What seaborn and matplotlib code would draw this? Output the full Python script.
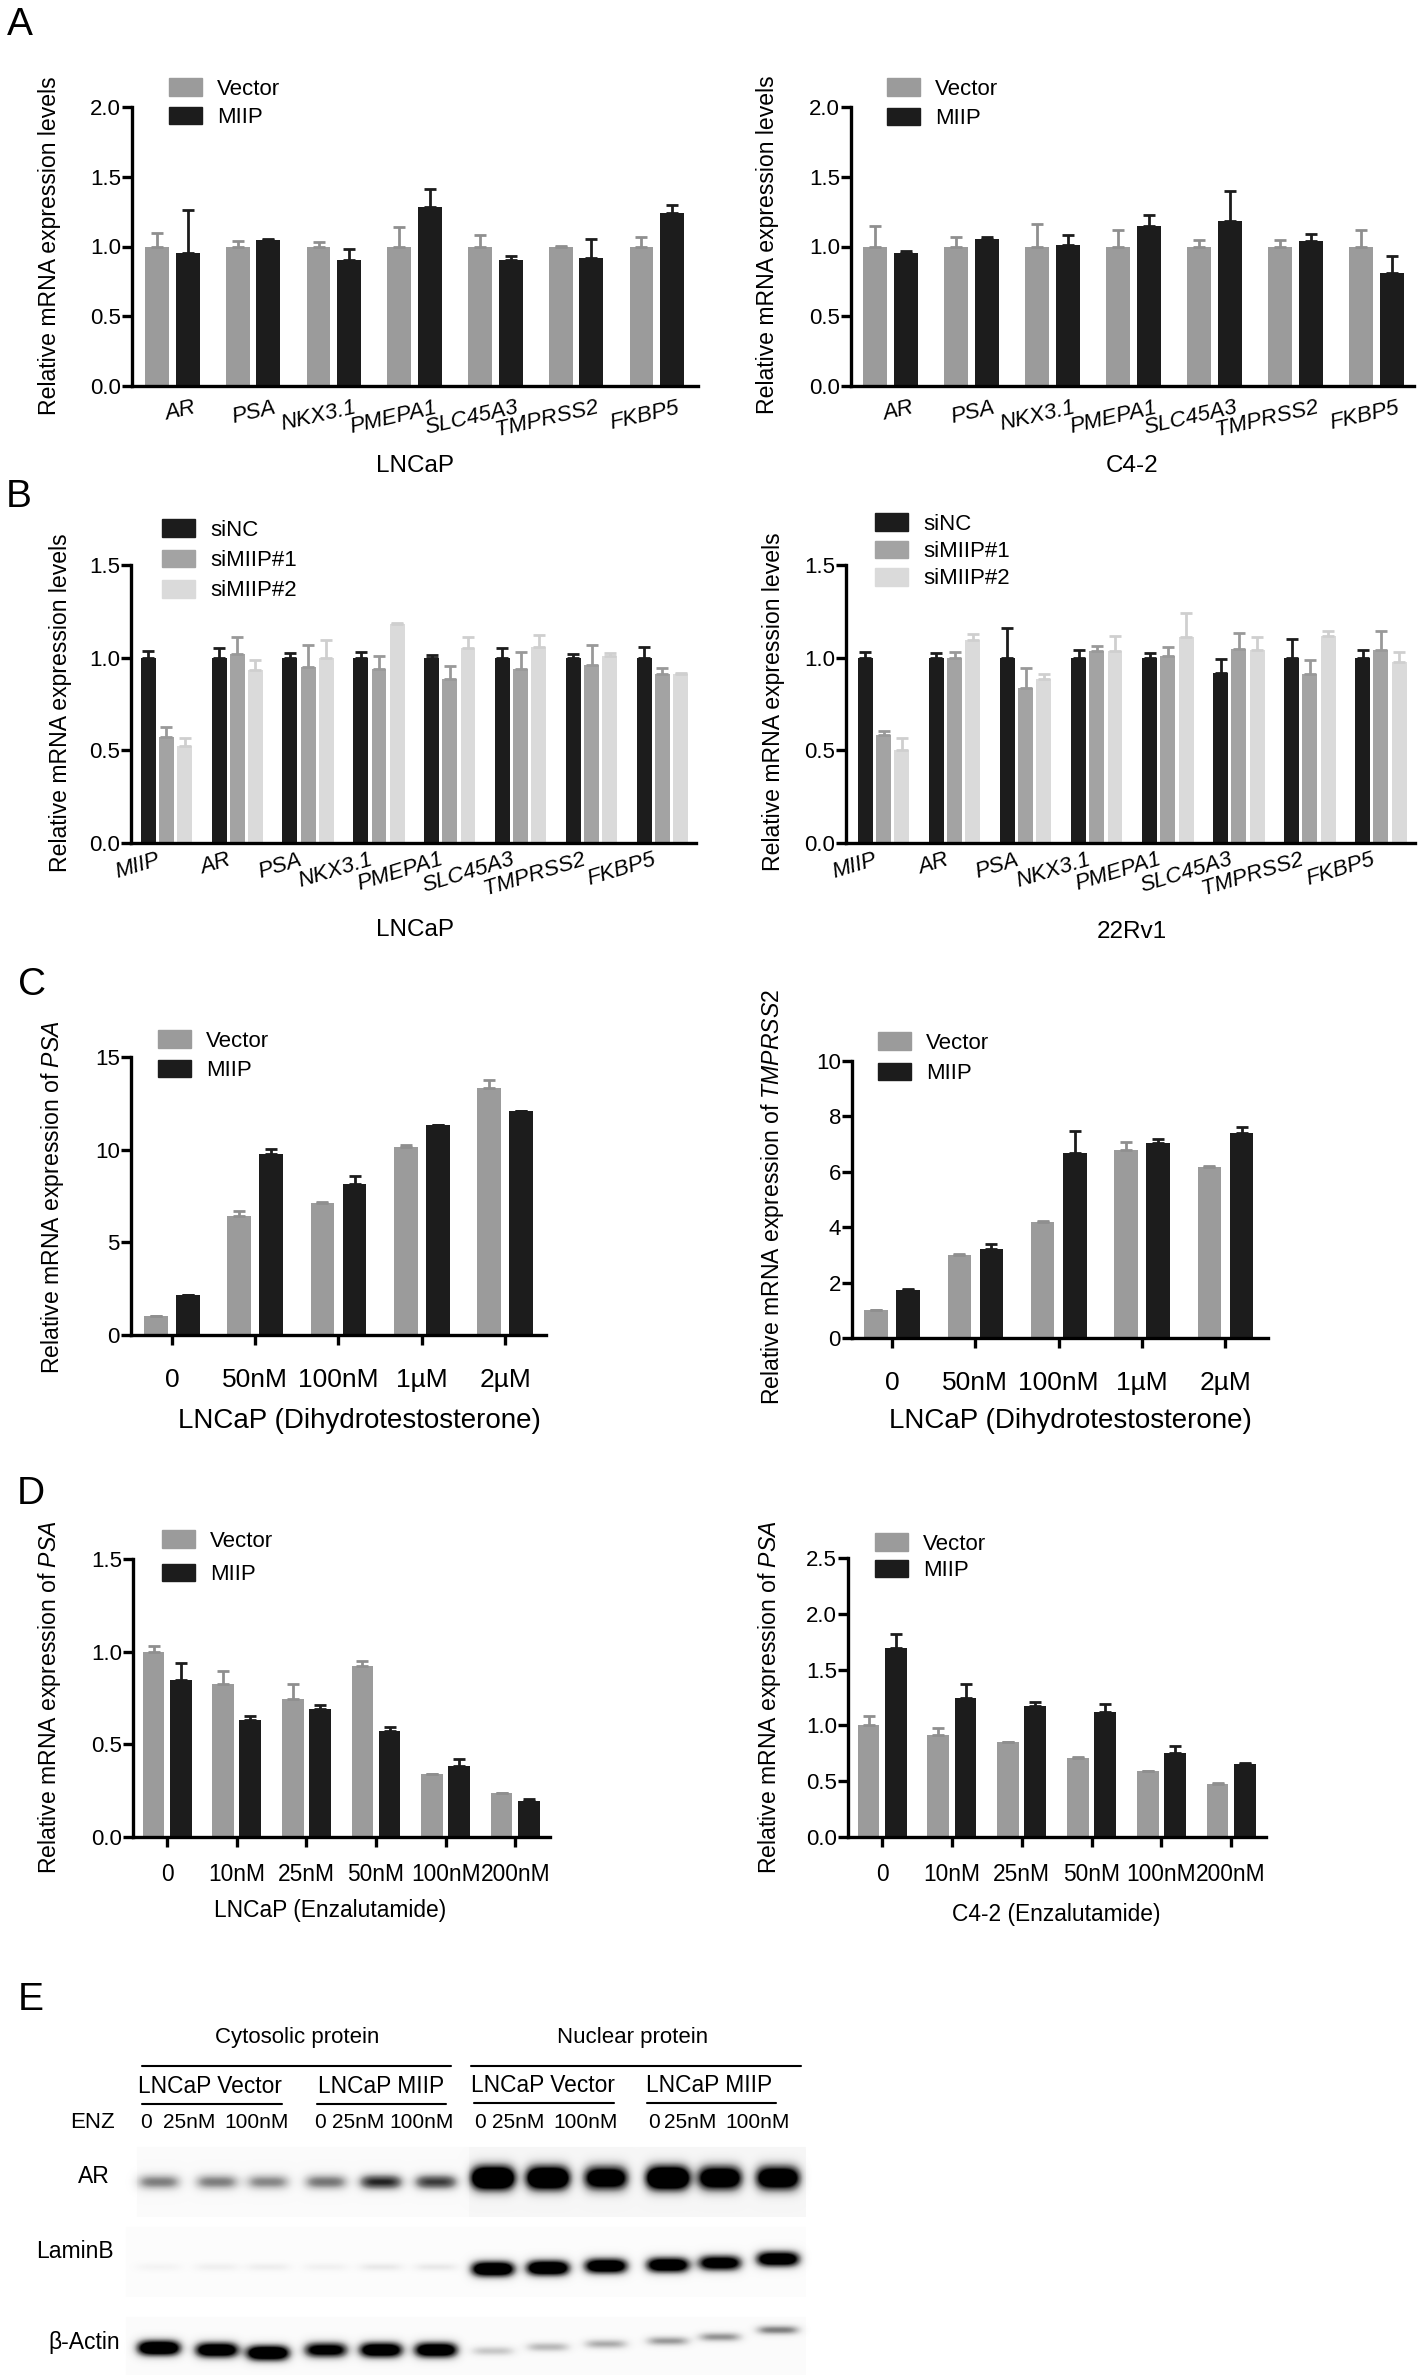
from __future__ import annotations

import matplotlib

matplotlib.use("Agg")
import matplotlib.pyplot as plt
import numpy as np
import pandas as pd
import seaborn as sns
from matplotlib.patches import Patch
from matplotlib.transforms import ScaledTranslation

# ---------------- data ----------------
GENES = ["AR", "PSA", "NKX3.1", "PMEPA1", "SLC45A3", "TMPRSS2", "FKBP5"]
GENES_SI = ["MIIP", "AR", "PSA", "NKX3.1", "PMEPA1", "SLC45A3", "TMPRSS2", "FKBP5"]
OE_GROUPS = ["Vector", "MIIP"]
SI_GROUPS = ["siNC", "siMIIP#1", "siMIIP#2"]
DHT_DOSES = ["0", "50nM", "100nM", "1µM", "2µM"]
ENZ_DOSES = ["0", "10nM", "25nM", "50nM", "100nM", "200nM"]

# A: LNCaP
A_LNCAP_VECTOR = [1.00, 1.00, 1.00, 1.00, 1.00, 1.00, 1.00]
A_LNCAP_VECTOR_ERR = [0.10, 0.04, 0.03, 0.14, 0.08, 0.005, 0.07]
A_LNCAP_MIIP = [0.95, 1.045, 0.90, 1.28, 0.90, 0.92, 1.24]
A_LNCAP_MIIP_ERR = [0.31, 0.012, 0.08, 0.13, 0.03, 0.135, 0.055]
# A: C4-2
A_C42_VECTOR = [1.00, 1.00, 1.00, 1.00, 1.00, 1.00, 1.00]
A_C42_VECTOR_ERR = [0.15, 0.07, 0.16, 0.115, 0.05, 0.045, 0.115]
A_C42_MIIP = [0.95, 1.057, 1.014, 1.146, 1.184, 1.04, 0.81]
A_C42_MIIP_ERR = [0.02, 0.008, 0.07, 0.08, 0.215, 0.05, 0.12]

# B: LNCaP
B_LNCAP_SINC = [1.00, 1.00, 1.00, 1.00, 1.00, 1.00, 1.00, 1.00]
B_LNCAP_SINC_ERR = [0.035, 0.05, 0.025, 0.03, 0.016, 0.05, 0.02, 0.06]
B_LNCAP_SI1 = [0.57, 1.02, 0.95, 0.94, 0.886, 0.94, 0.96, 0.913]
B_LNCAP_SI1_ERR = [0.055, 0.09, 0.12, 0.07, 0.07, 0.09, 0.11, 0.03]
B_LNCAP_SI2 = [0.524, 0.935, 1.00, 1.18, 1.05, 1.06, 1.007, 0.91]
B_LNCAP_SI2_ERR = [0.045, 0.05, 0.094, 0.005, 0.06, 0.06, 0.02, 0.005]
# B: 22Rv1
B_22RV1_SINC = [1.00, 1.00, 1.00, 1.00, 1.00, 0.915, 1.00, 1.00]
B_22RV1_SINC_ERR = [0.03, 0.027, 0.16, 0.04, 0.025, 0.078, 0.10, 0.04]
B_22RV1_SI1 = [0.584, 1.00, 0.835, 1.034, 1.009, 1.049, 0.913, 1.04]
B_22RV1_SI1_ERR = [0.02, 0.03, 0.11, 0.03, 0.047, 0.083, 0.077, 0.106]
B_22RV1_SI2 = [0.50, 1.098, 0.886, 1.034, 1.112, 1.043, 1.116, 0.976]
B_22RV1_SI2_ERR = [0.065, 0.03, 0.025, 0.085, 0.13, 0.07, 0.03, 0.057]

# C: DHT response
C_PSA_VECTOR = [1.0, 6.41, 7.10, 10.17, 13.33]
C_PSA_VECTOR_ERR = [0.05, 0.28, 0.08, 0.06, 0.44]
C_PSA_MIIP = [2.14, 9.76, 8.16, 11.32, 12.08]
C_PSA_MIIP_ERR = [0.02, 0.28, 0.41, 0.03, 0.03]
C_TMPRSS2_VECTOR = [1.0, 3.0, 4.19, 6.78, 6.16]
C_TMPRSS2_VECTOR_ERR = [0.02, 0.02, 0.05, 0.30, 0.06]
C_TMPRSS2_MIIP = [1.73, 3.22, 6.69, 7.04, 7.41]
C_TMPRSS2_MIIP_ERR = [0.03, 0.18, 0.78, 0.15, 0.20]

# D: enzalutamide response
D_LNCAP_VECTOR = [1.0, 0.826, 0.745, 0.925, 0.338, 0.237]
D_LNCAP_VECTOR_ERR = [0.03, 0.072, 0.08, 0.022, 0.003, 0.003]
D_LNCAP_MIIP = [0.845, 0.632, 0.688, 0.571, 0.381, 0.194]
D_LNCAP_MIIP_ERR = [0.095, 0.02, 0.025, 0.025, 0.04, 0.013]
D_C42_VECTOR = [1.0, 0.911, 0.851, 0.705, 0.588, 0.478]
D_C42_VECTOR_ERR = [0.08, 0.066, 0.004, 0.01, 0.004, 0.01]
D_C42_MIIP = [1.697, 1.245, 1.171, 1.12, 0.753, 0.657]
D_C42_MIIP_ERR = [0.12, 0.125, 0.035, 0.07, 0.06, 0.01]

# E: western blot band strength (0 = none, >1 saturated)
BLOT_LANES = ["0", "25nM", "100nM"] * 4
BLOT_GROUPS = ["LNCaP Vector", "LNCaP MIIP", "LNCaP Vector", "LNCaP MIIP"]
AR_BANDS = [0.55, 0.55, 0.52, 0.58, 0.85, 0.78, 1.8, 1.7, 1.4, 1.8, 1.5, 1.5]
LAMINB_BANDS = [0.07, 0.10, 0.11, 0.09, 0.14, 0.14, 1.5, 1.5, 1.4, 1.4, 1.3, 1.4]
ACTIN_BANDS = [1.5, 1.4, 1.5, 1.2, 1.4, 1.4, 0.30, 0.36, 0.40, 0.46, 0.48, 0.55]

# ---------------- style ----------------
W, H = 1418, 2378
GREY = "#9b9b9b"
BLACK = "#1c1c1c"
OE_PALETTE = {"Vector": GREY, "MIIP": BLACK}
OE_ERR = ["#8f8f8f", BLACK]
SI_PALETTE = {"siNC": BLACK, "siMIIP#1": "#a3a3a3", "siMIIP#2": "#dadada"}
SI_ERR = [BLACK, "#999999", "#cfcfcf"]
FONT = ["Liberation Sans", "DejaVu Sans"]

sns.set_theme(style="ticks", rc={
    "axes.edgecolor": "black", "text.color": "black", "axes.labelcolor": "black",
    "xtick.color": "black", "ytick.color": "black", "axes.linewidth": 2.4,
})
plt.rcParams["font.family"] = FONT
plt.rcParams["mathtext.fontset"] = "custom"
plt.rcParams["mathtext.rm"] = "Liberation Sans"
plt.rcParams["mathtext.it"] = "Liberation Sans:italic"

fig = plt.figure(figsize=(W / 100, H / 100), dpi=100)


def px_axes(left, top, right, bottom):
    return fig.add_axes([left / W, 1 - bottom / H, (right - left) / W, (bottom - top) / H])


def px_text(x, y, s, **kw):
    fig.text(x / W, 1 - y / H, s, **kw)


def long_frame(categories, groups, values):
    rows = []
    for group, vals in zip(groups, values):
        for cat, val in zip(categories, vals):
            rows.append({"category": cat, "group": group, "value": val})
    return pd.DataFrame(rows)


def bar_panel(rect, categories, groups, values, errors, palette, err_colors,
              width, gap, xlim, ylim, yticks, yfmt):
    ax = px_axes(*rect)
    frame = long_frame(categories, groups, values)
    sns.barplot(data=frame, x="category", y="value", hue="group", order=categories,
                hue_order=groups, palette=palette, saturation=1, errorbar=None,
                width=width, gap=gap, linewidth=0, legend=False, ax=ax)
    bar_sets = list(ax.containers)
    for bars, errs, color in zip(bar_sets, errors, err_colors):
        bars = sorted(bars, key=lambda b: b.get_x())
        xs = [b.get_x() + b.get_width() / 2 for b in bars]
        tops = [b.get_height() for b in bars]
        ax.errorbar(xs, tops, yerr=[np.zeros(len(errs)), errs], fmt="none",
                    ecolor=color, elinewidth=2.0, capsize=4.5, capthick=2.0, zorder=1.5)
    sns.despine(ax=ax)
    for side in ("left", "bottom"):
        ax.spines[side].set_linewidth(2.4)
        ax.spines[side].set_color("black")
    ax.set_xlim(*xlim)
    ax.set_ylim(*ylim)
    ax.set_yticks(yticks)
    ax.set_yticklabels([yfmt.format(t) for t in yticks])
    ax.set_xlabel("")
    ax.set_ylabel("")
    ax.tick_params(axis="y", length=7, width=2.4, pad=1, labelsize=16)
    ax.set_facecolor("none")
    return ax


def gene_ticks(ax, labels, rotation, dx, pad):
    ax.set_xticks(range(len(labels)))
    ax.set_xticklabels(labels, rotation=rotation, ha="right", rotation_mode="anchor",
                       fontstyle="italic", fontsize=16)
    ax.tick_params(axis="x", length=0, pad=pad)
    shift = ScaledTranslation(dx / 100, 0, fig.dpi_scale_trans)
    for lab in ax.get_xticklabels():
        lab.set_transform(lab.get_transform() + shift)


def dose_ticks(ax, labels, pad, size):
    ax.set_xticks(range(len(labels)))
    ax.set_xticklabels(labels, fontsize=size)
    ax.tick_params(axis="x", length=7, width=2.4, pad=pad)


def px_legend(ax, labels, palette, x, y_first, spacing, fs=16.0):
    fs_px = fs * 100 / 72
    row_h = 1.05 * fs_px
    handles = [Patch(facecolor=palette[l], edgecolor=palette[l]) for l in labels]
    ax.legend(handles, labels, loc="upper left",
              bbox_to_anchor=(x / W, 1 - (y_first - row_h / 2) / H),
              bbox_transform=fig.transFigure, frameon=False, borderpad=0,
              borderaxespad=0, handlelength=33 / fs_px, handleheight=19 / fs_px,
              handletextpad=15 / fs_px, labelspacing=(spacing - row_h) / fs_px,
              fontsize=fs)


def ylabel(x, y, s):
    px_text(x, y, s, rotation=90, ha="center", va="center", fontsize=16.6)


# ---------------- panel A ----------------
ax = bar_panel((132, 107, 698, 386), GENES, OE_GROUPS,
               [A_LNCAP_VECTOR, A_LNCAP_MIIP], [A_LNCAP_VECTOR_ERR, A_LNCAP_MIIP_ERR],
               OE_PALETTE, OE_ERR, 0.76, 0.22, (-0.5, 6.51), (0, 2.0),
               [0, 0.5, 1.0, 1.5, 2.0], "{:.1f}")
gene_ticks(ax, GENES, 13, 20, 8)
px_legend(ax, OE_GROUPS, OE_PALETTE, 169, 90, 30)
ylabel(50, 246, "Relative mRNA expression levels")
px_text(415, 466, "LNCaP", ha="center", va="center", fontsize=17.5)

ax = bar_panel((851, 107, 1414, 386), GENES, OE_GROUPS,
               [A_C42_VECTOR, A_C42_MIIP], [A_C42_VECTOR_ERR, A_C42_MIIP_ERR],
               OE_PALETTE, OE_ERR, 0.76, 0.22, (-0.49, 6.46), (0, 2.0),
               [0, 0.5, 1.0, 1.5, 2.0], "{:.1f}")
gene_ticks(ax, GENES, 13, 20, 8)
px_legend(ax, OE_GROUPS, OE_PALETTE, 887, 90, 31)
ylabel(767, 245, "Relative mRNA expression levels")
px_text(1132, 466, "C4-2", ha="center", va="center", fontsize=17.5)

# ---------------- panel B ----------------
ax = bar_panel((131, 565, 696, 843), GENES_SI, SI_GROUPS,
               [B_LNCAP_SINC, B_LNCAP_SI1, B_LNCAP_SI2],
               [B_LNCAP_SINC_ERR, B_LNCAP_SI1_ERR, B_LNCAP_SI2_ERR],
               SI_PALETTE, SI_ERR, 0.77, 0.18, (-0.5, 7.475), (0, 1.5),
               [0, 0.5, 1.0, 1.5], "{:.1f}")
gene_ticks(ax, GENES_SI, 17, -10, 4.5)
px_legend(ax, SI_GROUPS, SI_PALETTE, 162, 531, 32)
ylabel(61, 703, "Relative mRNA expression levels")
px_text(415, 930, "LNCaP", ha="center", va="center", fontsize=17.5)

ax = bar_panel((846, 565, 1415, 843), GENES_SI, SI_GROUPS,
               [B_22RV1_SINC, B_22RV1_SI1, B_22RV1_SI2],
               [B_22RV1_SINC_ERR, B_22RV1_SI1_ERR, B_22RV1_SI2_ERR],
               SI_PALETTE, SI_ERR, 0.77, 0.18, (-0.53, 7.48), (0, 1.5),
               [0, 0.5, 1.0, 1.5], "{:.1f}")
gene_ticks(ax, GENES_SI, 17, -10, 4.5)
px_legend(ax, SI_GROUPS, SI_PALETTE, 875, 525, 29)
ylabel(773, 702, "Relative mRNA expression levels")
px_text(1132, 932, "22Rv1", ha="center", va="center", fontsize=17.5)

# ---------------- panel C ----------------
ax = bar_panel((131, 1057, 546, 1335), DHT_DOSES, OE_GROUPS,
               [C_PSA_VECTOR, C_PSA_MIIP], [C_PSA_VECTOR_ERR, C_PSA_MIIP_ERR],
               OE_PALETTE, OE_ERR, 0.77, 0.27, (-0.49, 4.49), (0, 15),
               [0, 5, 10, 15], "{:d}")
dose_ticks(ax, DHT_DOSES, 17, 19)
px_legend(ax, OE_GROUPS, OE_PALETTE, 158, 1042, 31)
ylabel(53, 1197, r"Relative mRNA expression of $\mathit{PSA}$")
px_text(359, 1421, "LNCaP (Dihydrotestosterone)", ha="center", va="center", fontsize=20)

ax = bar_panel((852, 1061, 1268, 1338), DHT_DOSES, OE_GROUPS,
               [C_TMPRSS2_VECTOR, C_TMPRSS2_MIIP], [C_TMPRSS2_VECTOR_ERR, C_TMPRSS2_MIIP_ERR],
               OE_PALETTE, OE_ERR, 0.77, 0.27, (-0.48, 4.51), (0, 10),
               [0, 2, 4, 6, 8, 10], "{:d}")
dose_ticks(ax, DHT_DOSES, 17, 19)
px_legend(ax, OE_GROUPS, OE_PALETTE, 878, 1044, 32)
ylabel(772, 1197, r"Relative mRNA expression of $\mathit{TMPRSS2}$")
px_text(1070, 1421, "LNCaP (Dihydrotestosterone)", ha="center", va="center", fontsize=20)

# ---------------- panel D ----------------
ax = bar_panel((133, 1559, 550, 1837), ENZ_DOSES, OE_GROUPS,
               [D_LNCAP_VECTOR, D_LNCAP_MIIP], [D_LNCAP_VECTOR_ERR, D_LNCAP_MIIP_ERR],
               OE_PALETTE, OE_ERR, 0.78, 0.2, (-0.49, 5.5), (0, 1.5),
               [0, 0.5, 1.0, 1.5], "{:.1f}")
dose_ticks(ax, ENZ_DOSES, 12, 16.4)
px_legend(ax, OE_GROUPS, OE_PALETTE, 162, 1542, 35)
ylabel(50, 1697, r"Relative mRNA expression of $\mathit{PSA}$")
px_text(330, 1911, "LNCaP (Enzalutamide)", ha="center", va="center", fontsize=16.4)

ax = bar_panel((848, 1558, 1266, 1837), ENZ_DOSES, OE_GROUPS,
               [D_C42_VECTOR, D_C42_MIIP], [D_C42_VECTOR_ERR, D_C42_MIIP_ERR],
               OE_PALETTE, OE_ERR, 0.78, 0.2, (-0.49, 5.5), (0, 2.5),
               [0, 0.5, 1.0, 1.5, 2.0, 2.5], "{:.1f}")
dose_ticks(ax, ENZ_DOSES, 12, 16.4)
px_legend(ax, OE_GROUPS, OE_PALETTE, 875, 1545, 28)
ylabel(769, 1697, r"Relative mRNA expression of $\mathit{PSA}$")
px_text(1056, 1915, "C4-2 (Enzalutamide)", ha="center", va="center", fontsize=16.4)

# ---------------- panel E (blot) ----------------
E_TOP = 1950
ax_e = fig.add_axes([0, 0, 1, (H - E_TOP) / H])
ax_e.set_axis_off()

LANE_X = [159, 217, 268, 326, 381, 436, 493, 548, 606, 668, 720, 778]
LANE_LABEL_X = [146, 189, 257, 320, 358, 422, 480, 518, 586, 654, 690, 758]
BLOT_ROWS = [
    (AR_BANDS, [2182] * 6 + [2178] * 6, [8] * 6 + [12] * 6),
    (LAMINB_BANDS, [2267] * 6 + [2269, 2268, 2266, 2265, 2263, 2259], [4] * 6 + [8] * 6),
    (ACTIN_BANDS, [2348, 2350, 2353, 2350, 2350, 2350, 2351, 2347, 2344, 2341, 2337, 2330],
     [8] * 6 + [5] * 6),
]
STRIPS = [  # top, bottom, left, right, shade
    (2147, 2217, 137, 469, 0.035), (2147, 2217, 469, 806, 0.07),
    (2227, 2297, 126, 806, 0.025), (2317, 2375, 126, 806, 0.03),
]
bx0, bx1, by0, by1 = 120, 815, 2140, 2378
xx, yy = np.meshgrid(np.arange(bx0, bx1) + 0.5, np.arange(by0, by1) + 0.5)
blot = np.zeros_like(xx)
for top, bottom, left, right, shade in STRIPS:
    blot[(yy >= top) & (yy < bottom) & (xx >= left) & (xx < right)] += shade
for strengths, centers, half_h in BLOT_ROWS:
    for cx, cy, hh, s in zip(LANE_X, centers, half_h, strengths):
        blot += s * np.exp(-np.abs((xx - cx) / 22.0) ** 4) * np.exp(-((yy - cy) / hh) ** 2)
ax_e.imshow(np.clip(blot, 0, 1), cmap="Greys", vmin=0, vmax=1,
            extent=(bx0, bx1, by1, by0), aspect="auto", interpolation="bilinear")
ax_e.set_xlim(0, W)
ax_e.set_ylim(H, E_TOP)

ax_e.text(297, 2038, "Cytosolic protein", ha="center", va="center", fontsize=16)
ax_e.text(633, 2038, "Nuclear protein", ha="center", va="center", fontsize=16)
ax_e.plot([142, 451], [2066, 2066], color="black", lw=1.5)
ax_e.plot([471, 801], [2066, 2066], color="black", lw=1.5)
for name, cx, (l, r), y in zip(BLOT_GROUPS, [210, 381, 543, 709],
                               [(142, 282), (317, 446), (474, 614), (647, 776)],
                               [2087, 2087, 2086, 2086]):
    ax_e.text(cx, y, name, ha="center", va="center", fontsize=16.4)
    ax_e.plot([l, r], [y + 17, y + 17], color="black", lw=1.5)
ax_e.text(115, 2123, "ENZ", ha="right", va="center", fontsize=16)
for lab, x in zip(BLOT_LANES, LANE_LABEL_X):
    ax_e.text(x, 2123, lab, ha="center", va="center", fontsize=15)
for lab, x, y in [("AR", 110, 2177), ("LaminB", 114, 2252), ("β-Actin", 120, 2343)]:
    ax_e.text(x, y, lab, ha="right", va="center", fontsize=16.5)

# ---------------- panel letters ----------------
for letter, x, y in [("A", 20, 25), ("B", 19, 497), ("C", 32, 985), ("D", 31, 1494), ("E", 31, 2000)]:
    px_text(x, y, letter, ha="center", va="center", fontsize=28)

fig.savefig("out.png", dpi=100)
plt.close(fig)
